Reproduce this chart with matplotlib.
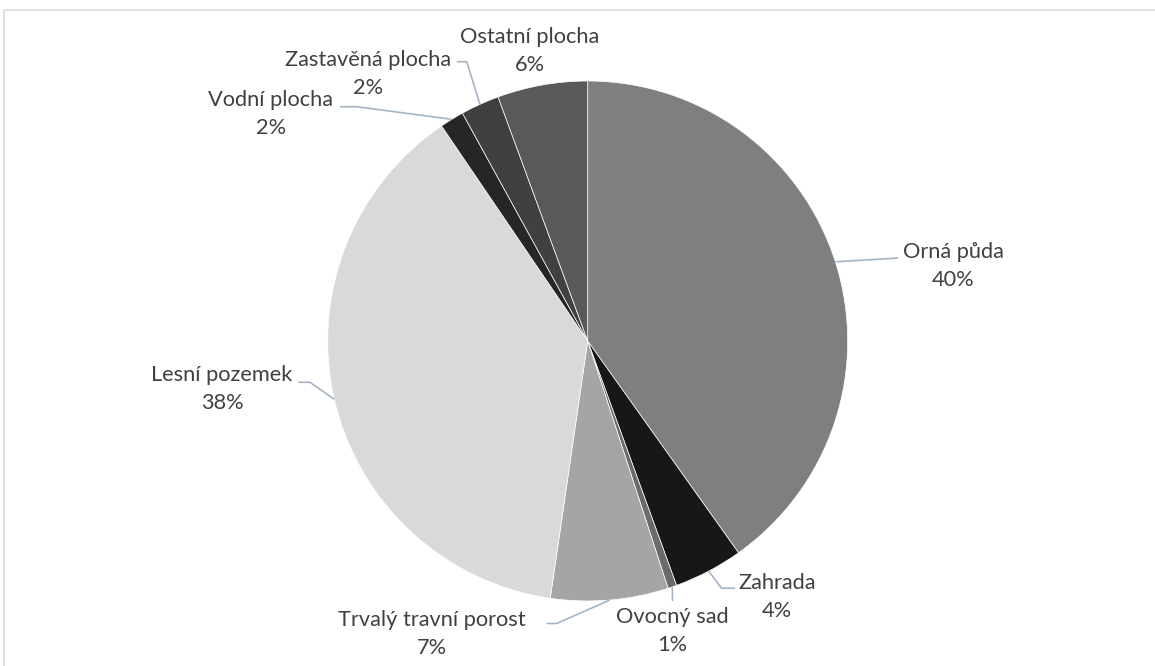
import math
import matplotlib.pyplot as plt
from matplotlib.patches import Rectangle

# land use categories, clockwise from 12 o'clock
categories = ["Orná půda", "Zahrada", "Ovocný sad", "Trvalý travní porost",
              "Lesní pozemek", "Vodní plocha", "Zastavěná plocha", "Ostatní plocha"]
shares = [40.15, 4.3, 0.55, 7.3, 38.2, 1.5, 2.4, 5.6]
colors = ["#7f7f7f", "#171717", "#6b6b6b", "#a5a5a5",
          "#d9d9d9", "#262626", "#404040", "#595959"]

# label block centres (pixels from top-left) and leader elbow points
label_pos = [(953, 266), (777, 597), (672, 631), (432, 634),
             (222, 389), (271, 114), (368, 74), (530, 51)]
leader_pts = [[(898, 258)],
              [(721.7, 588.3), (735, 588.3)],
              [(672.5, 601)],
              [(556.7, 623.5), (546.7, 623.5)],
              [(310, 382.3), (298.3, 382.3)],
              [(356.7, 106.7), (340, 106.7)],
              [(466.7, 61.7), (456.7, 61.7)],
              None]

W, H = 1155, 666
fig = plt.figure(figsize=(W / 100, H / 100), dpi=100)
ax = fig.add_axes([0, 0, 1, 1])

cx, cy, r = 587.7, 341, 260
wedges, _ = ax.pie(shares, colors=colors, startangle=-90, counterclock=True,
                   center=(cx, cy), radius=r, frame=True,
                   wedgeprops=dict(edgecolor="white", linewidth=0.5))
ax.set_xlim(0, W)
ax.set_ylim(H, 0)  # y goes down like pixels
ax.set_aspect("equal")
ax.axis("off")

total = sum(shares)
for w, cat, s, pos, pts in zip(wedges, categories, shares, label_pos, leader_pts):
    pct = int(s / total * 100 + 0.5)
    ax.text(pos[0], pos[1], f"{cat}\n{pct}%", ha="center", va="center",
            fontsize=15.7, color="#404040", family="Lato", linespacing=1.48)
    if pts:
        th = math.radians((w.theta1 + w.theta2) / 2)
        xs = [cx + r * math.cos(th)] + [p[0] for p in pts]
        ys = [cy + r * math.sin(th)] + [p[1] for p in pts]
        ax.plot(xs, ys, color="#a6b4c6", lw=1.2, solid_capstyle="butt")

# chart area frame
ax.add_patch(Rectangle((3.5, 9.5), 1300, 800, fill=False,
                       edgecolor="#d9d9d9", lw=1.2, clip_on=False))

fig.savefig("out.png", dpi=100)
